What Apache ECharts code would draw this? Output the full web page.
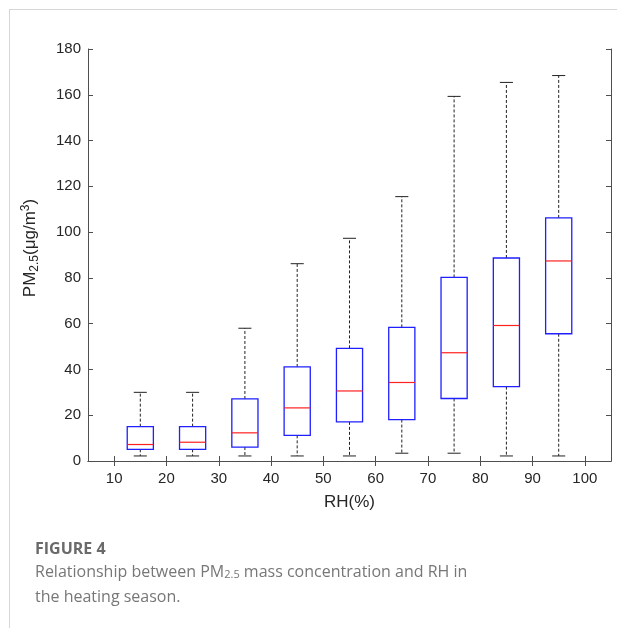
<!DOCTYPE html>
<html>
<head>
<meta charset="utf-8">
<script src="https://cdn.jsdelivr.net/npm/echarts@6/dist/echarts.min.js"></script>
<style>
html, body { margin: 0; padding: 0; background: #fff; }
#frame { position: absolute; left: 9px; top: 9px; width: 608px; height: 619px; border-left: 1px solid #d6d6d6; border-top: 1px solid #d6d6d6; }
#chart { position: absolute; left: 0; top: 0; width: 617px; height: 628px; }
</style>
</head>
<body>
<div id="frame"></div>
<div id="chart"></div>
<script>
// RH bins (box centres) and tick labels
const rhCenters = [15, 25, 35, 45, 55, 65, 75, 85, 95];
const rhTicks = [10, 20, 30, 40, 50, 60, 70, 80, 90, 100];

// box statistics, PM2.5 (ug/m3)
const whiskerLow = [2.2, 2.2, 2.2, 2.2, 2.2, 3.4, 3.4, 2.2, 2.2];
const q1 = [5.1, 5.1, 6.1, 11.2, 17.1, 18.1, 27.3, 32.5, 55.6];
const median = [7.2, 8.2, 12.3, 23.2, 30.6, 34.3, 47.3, 59.2, 87.4];
const q3 = [15.0, 15.0, 27.1, 41.1, 49.2, 58.4, 80.2, 88.7, 106.2];
const whiskerHigh = [30, 30, 58, 86.2, 97.3, 115.5, 159.3, 165.4, 168.4];

const font = 'Arial, "Liberation Sans", sans-serif';
const axisColor = '#4f4f4f';
const labelColor = '#262626';
const boxHalf = 2.5;
const capHalf = 1.25;

function ln(x1, y1, x2, y2, color, dashed, width) {
  return {
    type: 'line',
    shape: { x1: x1, y1: y1, x2: x2, y2: y2 },
    style: { stroke: color, lineWidth: width || 1, lineDash: dashed ? [3, 2] : null }
  };
}

function renderBox(params, api) {
  const x = api.value(0);
  const cx = api.coord([x, 0])[0];
  const lo = api.coord([x, api.value(1)])[1];
  const b = api.coord([x, api.value(2)])[1];
  const m = api.coord([x, api.value(3)])[1];
  const t = api.coord([x, api.value(4)])[1];
  const hi = api.coord([x, api.value(5)])[1];
  const xl = api.coord([x - boxHalf, 0])[0];
  const xr = api.coord([x + boxHalf, 0])[0];
  const cl = api.coord([x - capHalf, 0])[0];
  const cr = api.coord([x + capHalf, 0])[0];
  return {
    type: 'group',
    children: [
      ln(cx, t, cx, hi, '#222', true),
      ln(cx, b, cx, lo, '#222', true),
      ln(cl, hi, cr, hi, '#222'),
      ln(cl, lo, cr, lo, '#222'),
      {
        type: 'rect',
        shape: { x: xl, y: t, width: xr - xl, height: b - t },
        style: { fill: 'rgba(255,255,255,0)', stroke: '#1f1fff', lineWidth: 1.3 }
      },
      ln(xl, m, xr, m, '#ff2020', false, 1.2)
    ]
  };
}

// drawn from the right so the tall boxes come first
const boxData = rhCenters.map((x, i) => [x, whiskerLow[i], q1[i], median[i], q3[i], whiskerHigh[i]]).reverse();

const chart = echarts.init(document.getElementById('chart'));

chart.setOption({
  animation: false,
  textStyle: { fontFamily: font },
  grid: { left: 88, right: 6, top: 49, bottom: 167 },
  xAxis: [
    {
      type: 'value',
      min: 5,
      max: 105,
      position: 'bottom',
      axisLine: { show: true, lineStyle: { color: axisColor } },
      axisTick: { show: true, inside: true, length: 5, customValues: rhTicks, lineStyle: { color: axisColor } },
      axisLabel: { customValues: rhTicks, color: labelColor, fontSize: 15, fontFamily: font, margin: 10 },
      splitLine: { show: false },
      name: 'RH(%)',
      nameLocation: 'middle',
      nameGap: 33,
      nameTextStyle: { color: labelColor, fontSize: 17, fontFamily: font }
    },
    {
      type: 'value',
      min: 5,
      max: 105,
      position: 'top',
      axisLine: { show: true, lineStyle: { color: axisColor } },
      axisTick: { show: true, inside: true, length: 5, customValues: rhTicks, lineStyle: { color: axisColor } },
      axisLabel: { show: false },
      splitLine: { show: false }
    }
  ],
  yAxis: [
    {
      type: 'value',
      min: 0,
      max: 180,
      interval: 20,
      position: 'left',
      axisLine: { show: true, lineStyle: { color: axisColor } },
      axisTick: { show: true, inside: true, length: 5, lineStyle: { color: axisColor } },
      axisLabel: { color: labelColor, fontSize: 15, fontFamily: font, margin: 7 },
      splitLine: { show: false },
      name: '{n|PM}{sub|2.5}{n|(μg/m}{sup|3}{n|)}',
      nameLocation: 'middle',
      nameGap: 48,
      nameTextStyle: {
        color: labelColor,
        fontFamily: font,
        fontSize: 17,
        lineHeight: 20,
        padding: [0, 0, 0, 14],
        rich: {
          n: { fontSize: 17, lineHeight: 20, verticalAlign: 'middle', fontFamily: font, color: labelColor },
          sub: { fontSize: 12, lineHeight: 20, verticalAlign: 'middle', padding: [9, 0, 0, 0], fontFamily: font, color: labelColor },
          sup: { fontSize: 12, lineHeight: 20, verticalAlign: 'middle', padding: [0, 0, 9, 0], fontFamily: font, color: labelColor }
        }
      }
    },
    {
      type: 'value',
      min: 0,
      max: 180,
      interval: 20,
      position: 'right',
      axisLine: { show: true, lineStyle: { color: axisColor } },
      axisTick: { show: true, inside: true, length: 5, lineStyle: { color: axisColor } },
      axisLabel: { show: false },
      splitLine: { show: false }
    }
  ],
  series: [
    {
      type: 'custom',
      renderItem: renderBox,
      encode: { x: 0, y: [1, 2, 3, 4, 5] },
      data: boxData
    }
  ],
  graphic: [
    {
      type: 'text',
      left: 35,
      top: 541,
      style: { text: 'FIGURE 4', font: 'bold 16px "Open Sans", sans-serif', fill: '#6a6a6a' }
    },
    {
      type: 'text',
      left: 35,
      top: 564,
      style: {
        text: '{a|Relationship between PM}{s|2.5}{a| mass concentration and RH in}\n{a|the heating season.}',
        rich: {
          a: { fontSize: 16, lineHeight: 25, verticalAlign: 'bottom', fontFamily: '"Open Sans", sans-serif', fill: '#777' },
          s: { fontSize: 11, lineHeight: 12, verticalAlign: 'bottom', fontFamily: '"Open Sans", sans-serif', fill: '#777' }
        }
      }
    }
  ]
});
</script>
</body>
</html>
